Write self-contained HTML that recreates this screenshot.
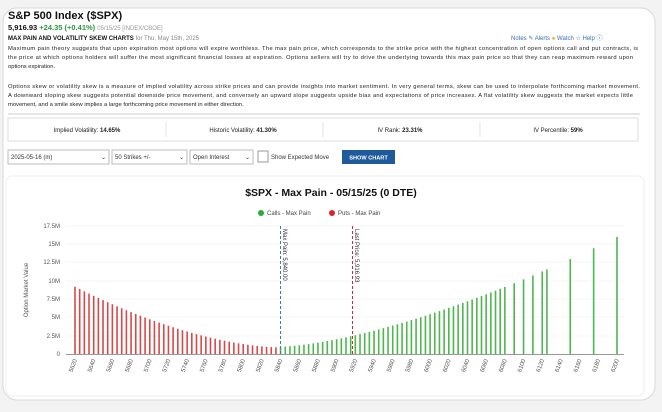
<!DOCTYPE html>
<html><head><meta charset="utf-8"><style>
body{margin:0;width:662px;height:407px;overflow:hidden;background:#f3f3f3;font-family:"Liberation Sans",sans-serif}
</style></head><body>
<svg width="662" height="407" xmlns="http://www.w3.org/2000/svg" font-family="Liberation Sans, sans-serif">
<rect x="3" y="8" width="652" height="392" rx="14" fill="#fff" stroke="#d8d8d8"/>
<text x="8" y="19" font-size="11" font-weight="bold" fill="#111">S&amp;P 500 Index ($SPX)</text>
<text x="8" y="30" font-size="7.5" font-weight="bold" fill="#111">5,916.93 <tspan fill="#2a9a3a">+24.35 (+0.41%)</tspan> <tspan font-weight="normal" fill="#999" font-size="6">05/15/25 [INDEX/CBOE]</tspan></text>
<text x="8" y="40" font-size="6" font-weight="bold" fill="#111">MAX PAIN AND VOLATILITY SKEW CHARTS <tspan font-weight="normal" fill="#888">for Thu, May 15th, 2025</tspan></text>
<text x="511" y="40" font-size="6" fill="#3a6fb0">Notes ✎  Alerts <tspan fill="#f0a000">●</tspan>  Watch ☆  Help ⓘ</text>
<g font-size="5.8" fill="#222">
<text x="8" y="50" textLength="630">Maximum pain theory suggests that upon expiration most options will expire worthless. The max pain price, which corresponds to the strike price with the highest concentration of open options call and put contracts, is</text>
<text x="8" y="59" textLength="625">the price at which options holders will suffer the most significant financial losses at expiration. Options sellers will try to drive the underlying towards this max pain price so that they can reap maximum reward upon</text>
<text x="8" y="68">options expiration.</text>
<text x="8" y="88" textLength="632">Options skew or volatility skew is a measure of implied volatility across strike prices and can provide insights into market sentiment. In very general terms, skew can be used to interpolate forthcoming market movement.</text>
<text x="8" y="97" textLength="625">A downward sloping skew suggests potential downside price movement, and conversely an upward slope suggests upside bias and expectations of price increases. A flat volatility skew suggests the market expects little</text>
<text x="8" y="106">movement, and a smile skew implies a large forthcoming price movement in either direction.</text>
</g>
<line x1="8" y1="114" x2="640" y2="114" stroke="#e5e5e5" stroke-width="2"/>
<rect x="8" y="118" width="630" height="23" fill="#fff" stroke="#ddd"/>
<g font-size="6" fill="#222" text-anchor="middle">
<text x="87" y="132">Implied Volatility: <tspan font-weight="bold">14.65%</tspan></text>
<text x="243" y="132">Historic Volatility: <tspan font-weight="bold">41.30%</tspan></text>
<text x="400" y="132">IV Rank: <tspan font-weight="bold">23.31%</tspan></text>
<text x="558" y="132">IV Percentile: <tspan font-weight="bold">59%</tspan></text>
</g>
<g stroke="#ddd" stroke-width="0.8"><line x1="166" y1="122" x2="166" y2="137"/><line x1="323" y1="122" x2="323" y2="137"/><line x1="480" y1="122" x2="480" y2="137"/></g>
<g font-size="6" fill="#333">
<rect x="8" y="150" width="101" height="14" fill="#fff" stroke="#bbb"/><text x="11" y="159">2025-05-16 (m)</text><text x="101" y="159">⌄</text>
<rect x="112" y="150" width="75" height="14" fill="#fff" stroke="#bbb"/><text x="115" y="159">50 Strikes +/-</text><text x="179" y="159">⌄</text>
<rect x="190" y="150" width="63" height="14" fill="#fff" stroke="#bbb"/><text x="193" y="159">Open Interest</text><text x="245" y="159">⌄</text>
<rect x="258" y="151" width="10" height="11" fill="#fff" stroke="#999"/><text x="271" y="159">Show Expected Move</text>
<rect x="342" y="150" width="53" height="14" fill="#1f5a9a"/><text x="368.5" y="159.5" fill="#fff" font-weight="bold" text-anchor="middle" font-size="5.6">SHOW CHART</text>
</g>
<rect x="6" y="176" width="638" height="220" rx="6" fill="#fff" stroke="#eee"/>
<text x="331" y="196" font-size="10.5" font-weight="bold" fill="#111" text-anchor="middle">$SPX - Max Pain - 05/15/25 (0 DTE)</text>
<circle cx="261" cy="213" r="3" fill="#2da83a"/><text x="267" y="215" font-size="6" fill="#444">Calls - Max Pain</text>
<circle cx="332" cy="213" r="3" fill="#d9262a"/><text x="338" y="215" font-size="6" fill="#444">Puts - Max Pain</text>
<g font-size="6" fill="#555" text-anchor="end">
<text x="60" y="228">17.5M</text><text x="60" y="246">15M</text><text x="60" y="264">12.5M</text><text x="60" y="283">10M</text><text x="60" y="301">7.5M</text><text x="60" y="319">5M</text><text x="60" y="338">2.5M</text><text x="60" y="356">0</text>
</g>
<g stroke="#eee" stroke-width="0.6">
<line x1="66" y1="226" x2="624" y2="226"/><line x1="66" y1="244" x2="624" y2="244"/><line x1="66" y1="262" x2="624" y2="262"/><line x1="66" y1="281" x2="624" y2="281"/><line x1="66" y1="299" x2="624" y2="299"/><line x1="66" y1="317" x2="624" y2="317"/><line x1="66" y1="336" x2="624" y2="336"/>
</g>
<text transform="translate(28,290) rotate(-90)" font-size="6" fill="#555" text-anchor="middle">Option Market Value</text>
<g id="bars"></g>
<line x1="66" y1="354.5" x2="624" y2="354.5" stroke="#999" stroke-width="1"/>
<line x1="280.5" y1="226" x2="280.5" y2="354" stroke="#3a7ab8" stroke-dasharray="3,2" stroke-width="1"/>
<text transform="translate(283,229) rotate(90)" font-size="6" fill="#333">Max Pain: 5,840.00</text>
<line x1="352.5" y1="226" x2="352.5" y2="354" stroke="#d9262a" stroke-dasharray="3,2" stroke-width="1"/>
<text transform="translate(355,229) rotate(90)" font-size="6" fill="#333">Last Price: 5,916.93</text>
<g id="xl" font-size="6" fill="#555"></g>
</svg>
<script>
var ns="http://www.w3.org/2000/svg",b=document.getElementById("bars"),xl=document.getElementById("xl");
function X(s){return 75+(s-5620)*542/580}
function Y(v){return 354-v*128/17.5}
var ss=[];for(var s=5620;s<=6080;s+=5)ss.push(s);ss.push(6090,6100,6110,6120,6125,6150,6175,6200);
ss.forEach(function(s){var v,c;
if(s<5840){v=0.9+8.3*Math.pow((5840-s)/220,1.7);c="#d94848";}else{v=1+15*Math.pow((s-5840)/360,1.5);c="#4fb64f";}
var l=document.createElementNS(ns,"line");l.setAttribute("x1",X(s));l.setAttribute("x2",X(s));l.setAttribute("y1",354);l.setAttribute("y2",Y(v));l.setAttribute("stroke",c);l.setAttribute("stroke-width","1.6");b.appendChild(l);});
for(var s=5620;s<=6200;s+=20){var t=document.createElementNS(ns,"text");t.setAttribute("transform","translate("+(X(s)+2)+",360) rotate(-70)");t.setAttribute("text-anchor","end");t.textContent=s;xl.appendChild(t);}
</script>
</body></html>
